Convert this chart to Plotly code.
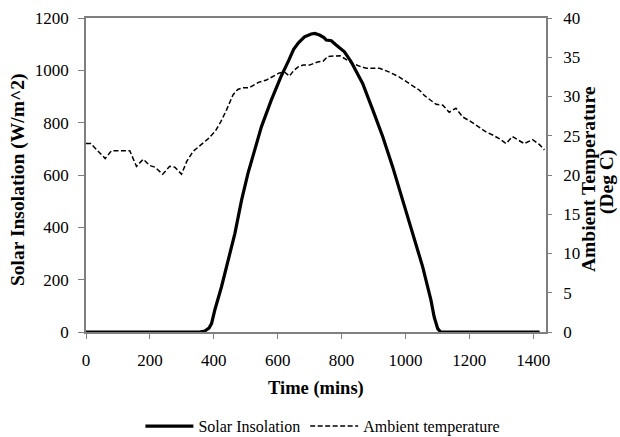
import plotly.graph_objects as go

# Solar insolation (W/m^2) vs time (mins)
solar_time = [0, 355, 372, 385, 393, 403, 424, 445, 466, 487, 507, 528, 549, 580, 610,
              635, 650, 665, 684, 705, 716, 731, 745, 752, 768, 783, 809, 830, 856, 866,
              898, 929, 960, 992, 1023, 1054, 1080, 1090, 1101, 1110, 1420]
solar_vals = [0, 0, 4, 15, 32, 83, 172, 274, 376, 504, 606, 695, 784, 886, 975,
              1039, 1080, 1105, 1128, 1139, 1141, 1135, 1125, 1116, 1113, 1097, 1071, 1033, 969, 950,
              848, 746, 631, 504, 376, 249, 121, 57, 13, 0, 0]

# Ambient temperature (Deg C) vs time (mins)
temp_time = [0, 15, 60, 80, 137, 158, 179, 200, 216, 240, 262, 278, 299, 315, 335, 360,
             382, 405, 422, 440, 460, 475, 490, 510, 540, 565, 585, 605, 622, 637, 650,
             665, 680, 700, 725, 742, 757, 795, 815, 835, 860, 877, 919, 950, 980, 1002,
             1030, 1044, 1060, 1075, 1096, 1117, 1137, 1158, 1179, 1205, 1231, 1252, 1273,
             1295, 1315, 1335, 1355, 1372, 1398, 1419, 1435]
temp_vals = [24.0, 24.0, 22.1, 23.1, 23.1, 21.1, 22.0, 21.2, 21.0, 20.1, 21.1, 21.0, 20.1, 21.7, 23.0, 23.8,
             24.6, 25.6, 26.8, 28.3, 30.2, 30.9, 31.1, 31.1, 31.8, 32.1, 32.6, 33.0, 33.1, 32.6, 33.3,
             33.8, 34.0, 34.0, 34.4, 34.5, 35.1, 35.2, 34.7, 34.2, 33.8, 33.6, 33.6, 33.1, 32.5, 31.9,
             31.2, 30.8, 30.1, 29.6, 29.0, 28.9, 28.0, 28.5, 27.4, 26.8, 26.1, 25.5, 25.1,
             24.6, 24.0, 24.9, 24.4, 24.0, 24.5, 23.9, 23.2]

x_ticks = [0, 200, 400, 600, 800, 1000, 1200, 1400]
y_ticks = [0, 200, 400, 600, 800, 1000, 1200]
y2_ticks = [0, 5, 10, 15, 20, 25, 30, 35, 40]

x_title = "Time (mins)"
y_title = "Solar Insolation (W/m^2)"
y2_title_lines = ["Ambient Temperature", "(Deg C)"]

FONT = "Liberation Serif"
AXIS_GREY = "#7f7f7f"
X_TITLE_SIZE = 18.5
Y_TITLE_SIZE = 19.5

fig = go.Figure()
fig.add_trace(go.Scatter(x=solar_time, y=solar_vals, mode="lines", name="Solar Insolation",
                         line=dict(color="black", width=3.2), yaxis="y"))
fig.add_trace(go.Scatter(x=temp_time, y=temp_vals, mode="lines", name="Ambient temperature",
                         line=dict(color="black", width=1.5, dash="5px,2.5px"), yaxis="y2"))

axis_common = dict(tickcolor=AXIS_GREY, showline=True, linecolor=AXIS_GREY, linewidth=1.5,
                   showgrid=False, zeroline=False, automargin=False,
                   tickfont=dict(size=17, family=FONT, color="black"))

title_font_x = dict(size=X_TITLE_SIZE, family=FONT, color="black")
title_font_y = dict(size=Y_TITLE_SIZE, family=FONT, color="black")

fig.update_layout(
    width=620, height=437,
    margin=dict(l=86, r=74, t=18, b=105, autoexpand=False),
    paper_bgcolor="white", plot_bgcolor="white",
    font=dict(family=FONT, color="black", size=17),
    showlegend=True,
    legend=dict(orientation="h", x=0.515, y=-0.30, xanchor="center", yanchor="middle",
                font=dict(size=16, family=FONT, color="black"), itemwidth=48),
    xaxis=dict(range=[0, 1440], tickvals=x_ticks, ticks="outside", ticklen=5,
               mirror=True, ticklabelstandoff=7, **axis_common),
    yaxis=dict(range=[0, 1200], tickvals=y_ticks, ticks="outside", ticklen=6,
               ticklabelstandoff=6, **axis_common),
    yaxis2=dict(range=[0, 40], tickvals=y2_ticks, ticks="outside", ticklen=4,
                overlaying="y", side="right", ticklabelstandoff=8, **axis_common),
    annotations=[
        dict(text="<b>" + x_title + "</b>", xref="paper", yref="paper", x=0.5, y=0,
             xanchor="center", yanchor="middle", yshift=-56, showarrow=False,
             font=title_font_x),
        dict(text="<b>" + y_title + "</b>", xref="paper", yref="paper", x=0, y=0.5,
             xanchor="center", yanchor="middle", xshift=-68, yshift=-5, textangle=-90,
             showarrow=False, font=title_font_y),
        dict(text="<b>" + y2_title_lines[0] + "</b>", xref="paper", yref="paper", x=1, y=0.5,
             xanchor="center", yanchor="middle", xshift=42, yshift=-4, textangle=-90,
             showarrow=False, font=title_font_y),
        dict(text="<b>" + y2_title_lines[1] + "</b>", xref="paper", yref="paper", x=1, y=0.5,
             xanchor="center", yanchor="middle", xshift=61, yshift=-7, textangle=-90,
             showarrow=False, font=title_font_y),
    ],
)

fig.write_html("out.html", config={"displayModeBar": False},
               post_script="document.body.style.margin='0';document.body.style.overflow='hidden';")
